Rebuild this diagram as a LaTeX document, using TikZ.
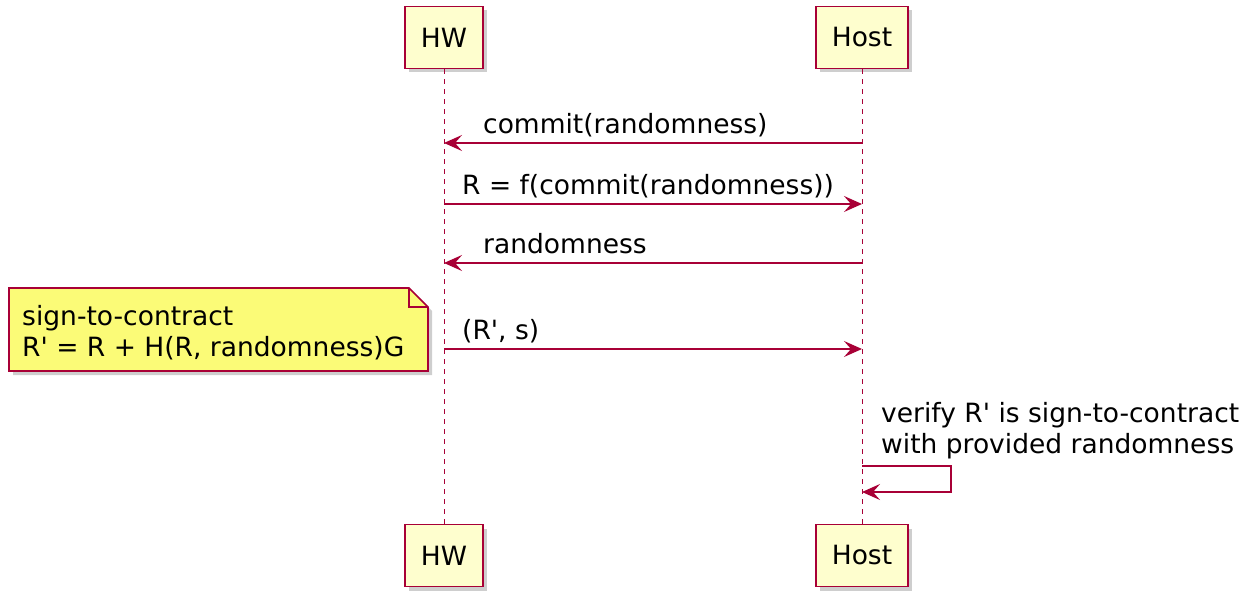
\documentclass[tikz,border=0pt]{standalone}
\usepackage{fontspec}
\setmainfont{DejaVu Sans}[Ligatures=TeXOff]
\usetikzlibrary{positioning, arrows.meta, shadows}

\definecolor{umlred}{HTML}{A80036}
\definecolor{umlbox}{HTML}{FEFECE}
\definecolor{umlnote}{HTML}{FBFB77}

\tikzset{
  actor/.style={draw=umlred, fill=umlbox, line width=1.8pt,
    minimum height=62pt, inner xsep=16pt, font=\fontsize{26.5}{31}\selectfont,
    drop shadow={shadow xshift=4pt, shadow yshift=-4pt, fill=black!38}},
  lifeline/.style={umlred, line width=1pt, dash pattern=on 5pt off 5pt},
  msg/.style={umlred, line width=1.5pt,
    -{Stealth[length=18pt, width=16pt, inset=7pt]}},
  msglabel/.style={anchor=base west, inner sep=0pt,
    font=\fontsize{26.5}{31}\selectfont},
  notebox/.style={draw=umlred, fill=umlnote, line width=1.6pt,
    drop shadow={shadow xshift=4pt, shadow yshift=-4pt, fill=black!38}},
}

\begin{document}
\begin{tikzpicture}[x=1pt, y=-1pt]
  \useasboundingbox (0,0) rectangle (1247,593);

  % participants, top and bottom
  \node [actor] (hw) at (444,37.5) {HW};
  \node [actor] (host) at (862,37.5) {Host};
  \node [actor] (hwend) at (444,555.5) {HW};
  \node [actor] (hostend) at (862,555.5) {Host};

  \draw [lifeline] (hw) -- (hwend);
  \draw [lifeline] (host) -- (hostend);

  % message ends on the lifelines
  \coordinate (commitHW) at (444,143);
  \coordinate (commitHost) at (862,143);
  \coordinate (rHW) at (444,204);
  \coordinate (rHost) at (862,204);
  \coordinate (randHW) at (444,263);
  \coordinate (randHost) at (862,263);
  \coordinate (sigHW) at (444,349);
  \coordinate (sigHost) at (862,349);
  \coordinate (selfOut) at (862,466);
  \coordinate (selfIn) at (862,492);

  \draw [msg] (commitHost) -- (commitHW);
  \node [msglabel] (commitlbl) at (483,134) {commit(randomness)};

  \draw [msg] (rHW) -- (rHost);
  \node [msglabel] (rlbl) at (462,195) {R = f(commit(randomness))};

  \draw [msg] (randHost) -- (randHW);
  \node [msglabel] (randlbl) at (483,254) {randomness};

  \draw [msg] (sigHW) -- (sigHost);
  \node [msglabel] (siglbl) at (462,340) {(R', s)};

  % note on HW
  \draw [notebox] (9,288) -- (409,288) -- (428,307) -- (428,371)
    -- (9,371) -- cycle;
  \draw [umlred, line width=1.6pt] (409,288) -- (409,307) -- (428,307);
  \node [msglabel, align=left] (note) at (22,356)
    {sign-to-contract\\R' = R + H(R, randomness)G};

  % self message on Host
  \draw [msg] (selfOut) -- ++(89,0) -- ++(0,26) -- (selfIn);
  \node [msglabel, align=left] (verify) at (881,453)
    {verify R' is sign-to-contract\\with provided randomness};
\end{tikzpicture}
\end{document}
